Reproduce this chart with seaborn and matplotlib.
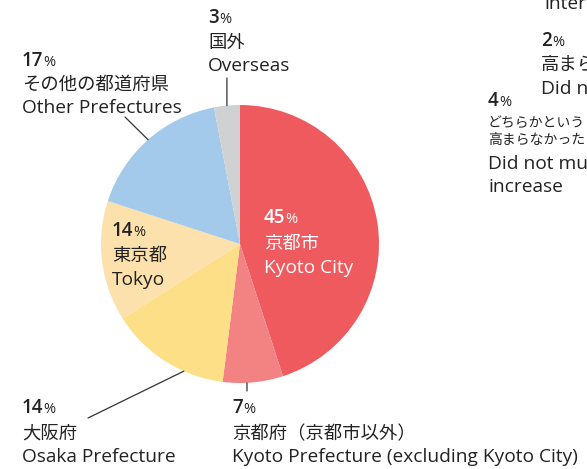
import matplotlib
matplotlib.use("Agg")
import matplotlib.pyplot as plt
import seaborn as sns
import numpy as np

sns.set_theme(style="white")
plt.rcParams['font.family'] = ['Open Sans', 'Noto Sans CJK JP', 'DejaVu Sans']

# ---- data ----
categories = ["Kyoto City", "Kyoto Prefecture (excluding Kyoto City)", "Osaka Prefecture",
              "Tokyo", "Other Prefectures", "Overseas"]
values = [45, 7, 14, 14, 17, 3]
labels_jp = ["京都市", "京都府（京都市以外）", "大阪府", "東京都", "その他の都道府県", "国外"]
labels_en = ["Kyoto City", "Kyoto Prefecture (excluding Kyoto City)", "Osaka Prefecture",
             "Tokyo", "Other Prefectures", "Overseas"]
colors = ["#EF5A5F", "#F38282", "#FDDF88", "#FDE1AC", "#A3C9EB", "#D0D1D3"]

# neighbouring chart (only the visible fragments at the right edge)
side_top = "inter"
side_pcts = [2, 4]
side_jp = [["高まら"], ["どちらかという", "高まらなかった"]]
side_en = [["Did n"], ["Did not mu", "increase"]]

W, H = 587, 469
fig = plt.figure(figsize=(W / 100, H / 100), dpi=100)
fig.patch.set_facecolor("white")

cx, cy, r = 240, 244, 139
ax = fig.add_axes([(cx - r) / W, (H - cy - r) / H, 2 * r / W, 2 * r / H])
wedges, _ = ax.pie(values, colors=colors, startangle=90, counterclock=False,
                   radius=1, wedgeprops=dict(linewidth=0))
ax.set_xlim(-1, 1)
ax.set_ylim(-1, 1)
ax.set_aspect("auto")
ax.axis("off")

TXT = "#222222"
FS_JP, FS_EN = 13.2, 13.8
renderer = fig.canvas.get_renderer()


def fy(y):
    return 1 - y / H


def pct_label(x, y, num, color=TXT):
    t = fig.text(x / W, fy(y), str(num), fontsize=13.5, fontweight="semibold", color=color,
                 va="baseline", ha="left")
    bb = t.get_window_extent(renderer=renderer)
    fig.text((bb.x1 + 0.2) / W, fy(y), "%", fontsize=10.5, color=color,
             va="baseline", ha="left")


def block(x, ys, num, lines, color=TXT, sizes=None):
    pct_label(x, ys[0], num, color)
    for i, (yy, s) in enumerate(zip(ys[1:], lines)):
        fs = sizes[i]
        fig.text(x / W, fy(yy), s, fontsize=fs, color=color, va="baseline", ha="left")


# label placements (pixel positions of text blocks)
pos = {
    0: (264, [223, 249, 273], "white"),
    1: (232, [413, 439, 462], TXT),
    2: (22, [413, 439, 462], TXT),
    3: (112, [236, 261, 285], TXT),
    4: (22, [66, 90, 113], TXT),
    5: (208, [23, 48, 71], TXT),
}
for i in range(len(values)):
    x, ys, c = pos[i]
    block(x, ys, values[i], [labels_jp[i], labels_en[i]], color=c, sizes=[FS_JP, FS_EN])

# leader lines: from a point on the wedge edge to the text block
leaders = {1: (0.4, (None, 391)), 2: (0.67, (88, 418)), 4: (0.5, (125, 117)), 5: (0.5, (None, 78))}
for i, (frac, (tx, ty)) in leaders.items():
    w = wedges[i]
    ang = np.deg2rad(w.theta1 + (w.theta2 - w.theta1) * frac)
    px, py = np.cos(ang), np.sin(ang)
    if tx is None:
        tx = ax.transData.transform((px, py))[0]
    ax.annotate("", xy=(px, py), xycoords="data",
                xytext=(tx, H - ty), textcoords="figure pixels",
                arrowprops=dict(arrowstyle="-", color="#333333", lw=0.9,
                                shrinkA=0, shrinkB=0))

# neighbouring chart fragments (cut off at the edge, as in the source)
fig.text(545 / W, fy(9), side_top, fontsize=FS_EN, color=TXT, va="baseline", ha="left")
block(541, [46, 70, 94], side_pcts[0], side_jp[0] + side_en[0], sizes=[FS_JP, FS_EN])
block(488, [106, 127, 144, 169, 192], side_pcts[1], side_jp[1] + side_en[1],
      sizes=[10, 10, FS_EN, FS_EN])

fig.savefig("out.png", dpi=100, facecolor="white")
